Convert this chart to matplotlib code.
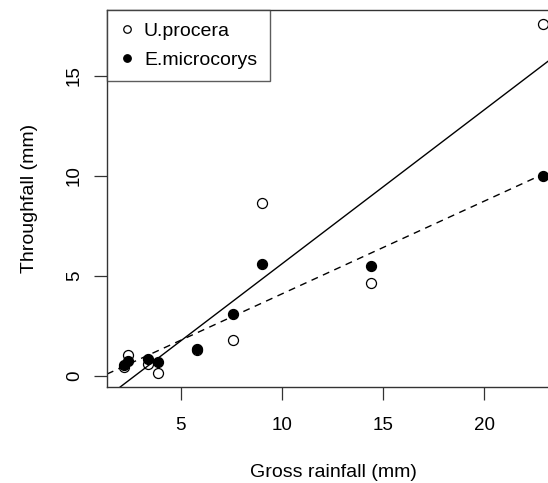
import matplotlib.pyplot as plt
import numpy as np

plt.rcParams['font.family'] = ['Liberation Sans', 'DejaVu Sans']

# gross rainfall (mm) per event
rain = [2.2, 2.4, 3.4, 3.9, 5.8, 7.6, 9.0, 14.4, 22.9]
# throughfall (mm)
procera = [0.45, 1.05, 0.6, 0.15, 1.3, 1.8, 8.65, 4.65, 17.6]
microcorys = [0.55, 0.75, 0.85, 0.7, 1.35, 3.1, 5.6, 5.5, 10.0]

xticks = [5, 10, 15, 20]
yticks = [0, 5, 10, 15]

fig = plt.figure(figsize=(5.48, 4.83), dpi=100)
ax = fig.add_axes([107/548, 96/483, 453/548, 377/483])

ax.plot(rain, procera, 'o', mfc='white', mec='black', ms=7.2, mew=0.9, label='U.procera')
ax.plot(rain, microcorys, 'o', mfc='black', mec='black', ms=7.2, mew=0.9, label='E.microcorys')

# least squares fits, lines over the whole plot like abline()
b1, a1 = np.polyfit(rain, procera, 1)
b2, a2 = np.polyfit(rain, microcorys, 1)
ax.axline((0, a1), slope=b1, color='black', lw=1.0)
ax.axline((0, a2), slope=b2, color='black', lw=1.0, ls=(0, (5, 4)))

# R style 4% padding
xr = max(rain) - min(rain)
yr = max(procera) - min(procera)
ax.set_xlim(min(rain) - 0.04*xr, max(rain) + 0.04*xr)
ax.set_ylim(min(procera) - 0.04*yr, max(procera) + 0.04*yr)

ax.set_xticks(xticks)
ax.set_yticks(yticks)
ax.tick_params(axis='both', length=9.4, width=0.9, color='#333333', labelsize=13.5)
ax.tick_params(axis='x', pad=12)
ax.tick_params(axis='y', pad=8)
for lab in ax.get_yticklabels():
    lab.set_rotation(90)
    lab.set_va('center')
for s in ax.spines.values():
    s.set_linewidth(1.0)
    s.set_color('#333333')

ax.set_xlabel('Gross rainfall (mm)', fontsize=14, labelpad=22)
ax.set_ylabel('Throughfall (mm)', fontsize=14, labelpad=20)

leg = ax.legend(loc='upper left', borderaxespad=0, fancybox=False, fontsize=14,
                markerscale=0.75, handlelength=0.8, handletextpad=0.45,
                labelspacing=0.55, borderpad=0.65)
leg.get_frame().set_edgecolor('#333333')
leg.get_frame().set_linewidth(1.0)

fig.savefig('out.png', dpi=100)
